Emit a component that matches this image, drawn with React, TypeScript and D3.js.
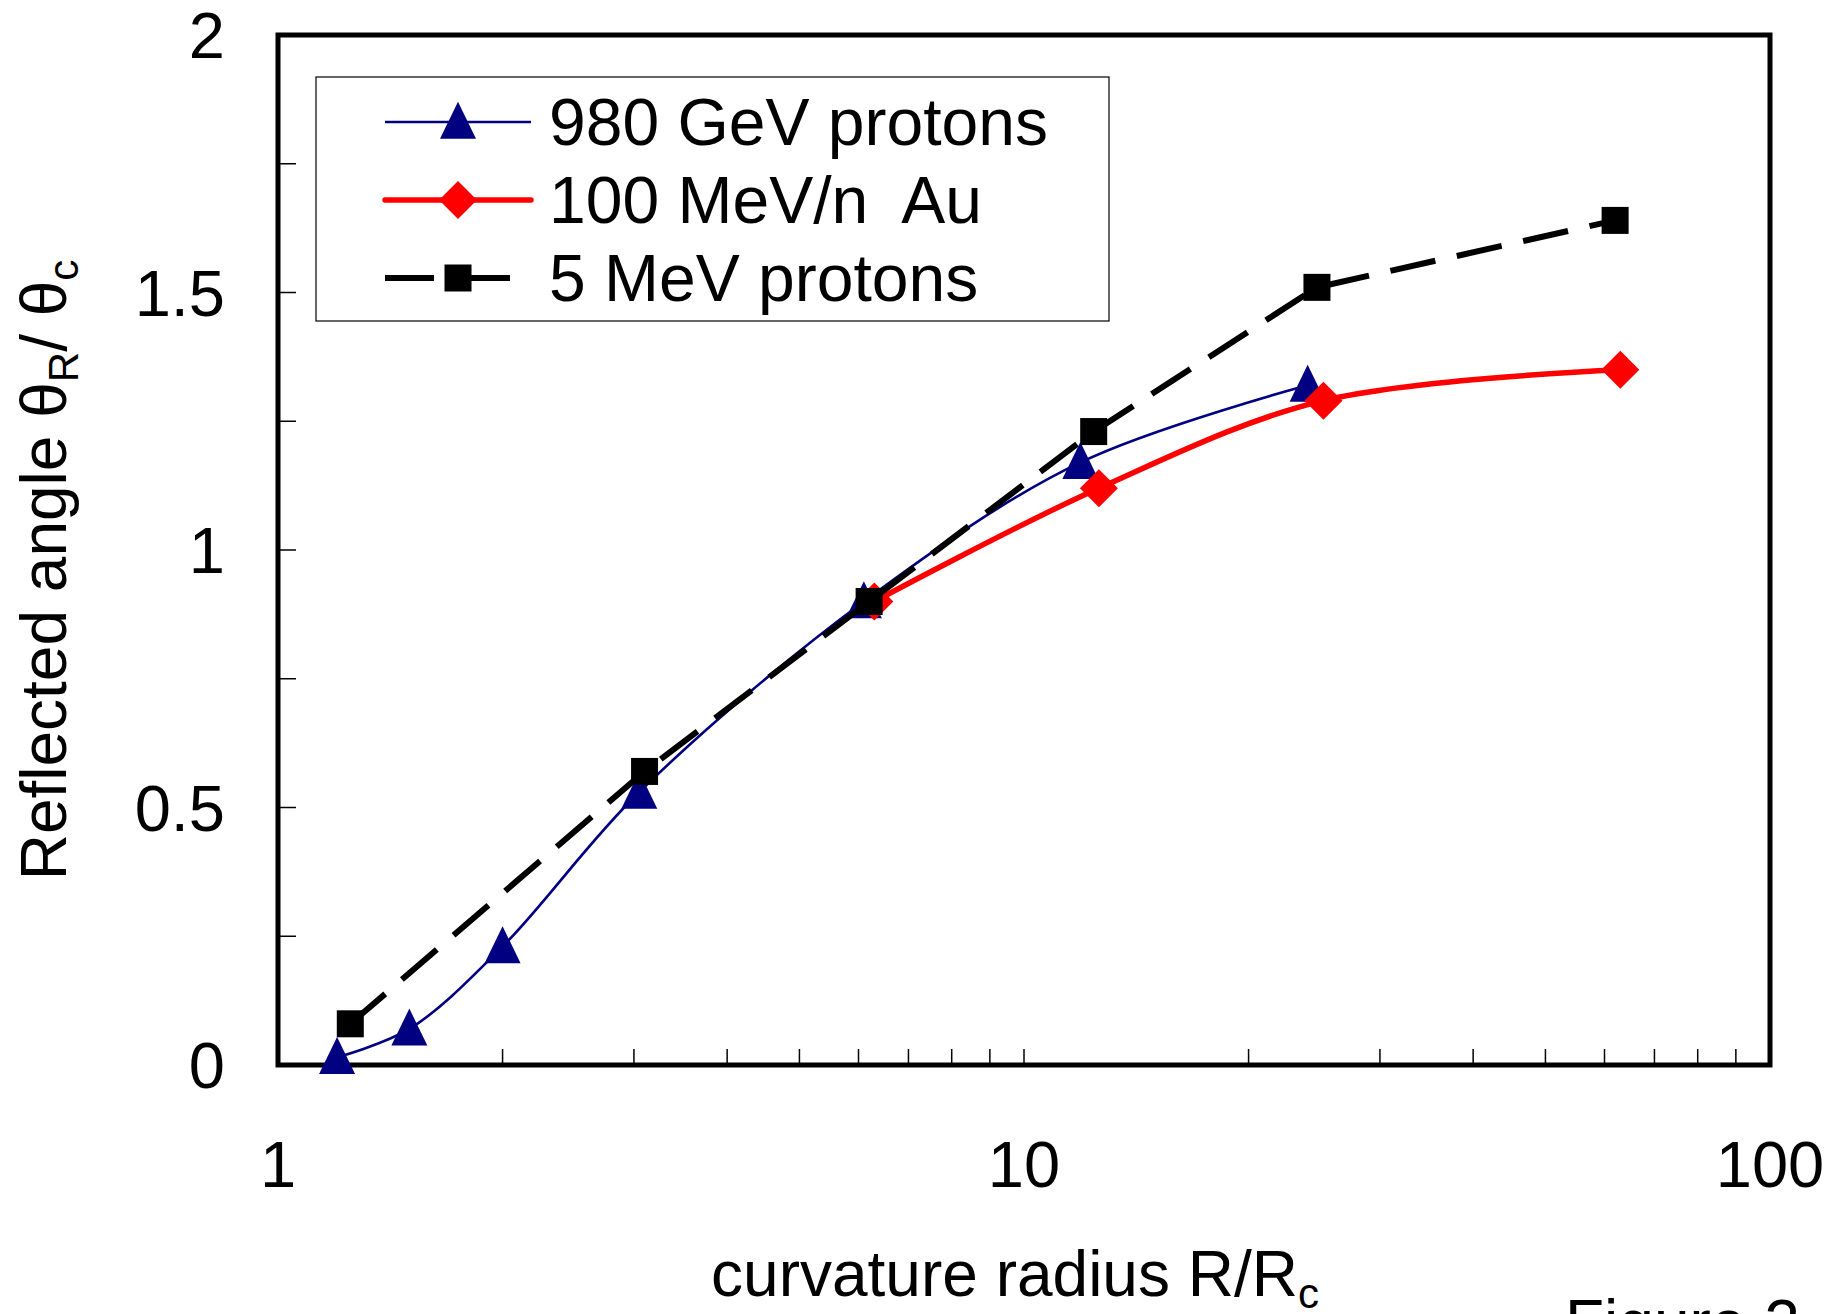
import React from "react";
import * as d3 from "d3";

const W = 1831;
const H = 1314;

const protons980X = [1.2, 1.5, 2.0, 3.05, 6.1, 11.9, 24];
const protons980Y = [0.015, 0.07, 0.23, 0.53, 0.9, 1.17, 1.32];
const auX = [6.3, 12.6, 25.2, 63];
const auY = [0.9, 1.12, 1.29, 1.35];
const protons5X = [1.25, 3.1, 6.2, 12.4, 24.7, 62];
const protons5Y = [0.08, 0.57, 0.9, 1.23, 1.51, 1.64];

const yTickLabels = ["0", "0.5", "1", "1.5", "2"];
const yTickValues = [0, 0.5, 1, 1.5, 2];
const yMinorValues = [0.25, 0.5, 0.75, 1, 1.25, 1.5, 1.75];
const xTickLabels = ["1", "10", "100"];
const xTickValues = [1, 10, 100];
const xMinorValues = [2, 3, 4, 5, 6, 7, 8, 9, 10, 20, 30, 40, 50, 60, 70, 80, 90];
const legendLabels = ["980 GeV protons", "100 MeV/n  Au", "5 MeV protons"];

const FONT = "'Liberation Sans', Arial, sans-serif";

export default function App() {
  const left = 278, right = 1770, top = 35, bottom = 1065;
  const x = d3.scaleLog().domain([1, 100]).range([left, right]);
  const y = d3.scaleLinear().domain([0, 2]).range([bottom, top]);

  const smooth = d3
    .line<[number, number]>()
    .x((d) => x(d[0]))
    .y((d) => y(d[1]))
    .curve(d3.curveCatmullRom.alpha(0.5));
  const straight = d3
    .line<[number, number]>()
    .x((d) => x(d[0]))
    .y((d) => y(d[1]));

  const blue = protons980X.map((v, i) => [v, protons980Y[i]] as [number, number]);
  const red = auX.map((v, i) => [v, auY[i]] as [number, number]);
  const black = protons5X.map((v, i) => [v, protons5Y[i]] as [number, number]);

  const tri = (cx: number, cy: number, w = 36, h = 37) =>
    `M${cx},${cy - h * 0.55} L${cx + w / 2},${cy + h * 0.45} L${cx - w / 2},${cy + h * 0.45} Z`;
  const dia = (cx: number, cy: number, w = 38, h = 38) =>
    `M${cx},${cy - h / 2} L${cx + w / 2},${cy} L${cx},${cy + h / 2} L${cx - w / 2},${cy} Z`;
  const SQ = 27;

  const legRows = [122, 200, 278];
  const legL = 385, legR = 531, legM = 458, legText = 549;

  return (
    <svg
      width={W}
      height={H}
      style={{ position: "absolute", left: 0, top: 0, background: "#fff" }}
      fontFamily={FONT}
    >
      <rect x={0} y={0} width={W} height={H} fill="#fff" />

      {yMinorValues.map((v) => (
        <line key={"ym" + v} x1={left} x2={left + 18} y1={y(v)} y2={y(v)} stroke="#000" strokeWidth={1.5} />
      ))}
      {xMinorValues.map((v) => (
        <line key={"xm" + v} x1={x(v)} x2={x(v)} y1={bottom} y2={bottom - 16} stroke="#000" strokeWidth={1.5} />
      ))}

      <rect x={left} y={top} width={right - left} height={bottom - top} fill="none" stroke="#000" strokeWidth={5} />

      {yTickValues.map((v, i) => (
        <text key={"yl" + v} x={225} y={y(v) + 23} textAnchor="end" fontSize={65} fill="#000">
          {yTickLabels[i]}
        </text>
      ))}
      {xTickValues.map((v, i) => (
        <text key={"xl" + v} x={x(v)} y={1187} textAnchor="middle" fontSize={65} fill="#000">
          {xTickLabels[i]}
        </text>
      ))}

      <text x={1015} y={1296} textAnchor="middle" fontSize={64} fill="#000">
        curvature radius R/R<tspan fontSize={42} dy={12}>c</tspan>
      </text>
      <text transform={`translate(66,570) rotate(-90)`} textAnchor="middle" fontSize={64} fill="#000">
        Reflected angle θ<tspan fontSize={42} dy={12}>R</tspan>
        <tspan dy={-12}>/ θ</tspan>
        <tspan fontSize={42} dy={12}>c</tspan>
      </text>

      <text x={1565} y={1345} fontSize={64} fill="#000">Figure 2</text>

      <path d={smooth(blue) || ""} fill="none" stroke="#000080" strokeWidth={2.6} />
      {blue.map((d, i) => (
        <path key={"bt" + i} d={tri(x(d[0]), y(d[1]))} fill="#000080" />
      ))}

      <path d={smooth(red) || ""} fill="none" stroke="#ff0000" strokeWidth={5.5} strokeLinejoin="round" />
      {red.map((d, i) => (
        <path key={"rd" + i} d={dia(x(d[0]), y(d[1]))} fill="#ff0000" />
      ))}

      <path d={straight(black) || ""} fill="none" stroke="#000" strokeWidth={6} strokeDasharray="46 22" />
      {black.map((d, i) => (
        <rect key={"bs" + i} x={x(d[0]) - SQ / 2} y={y(d[1]) - SQ / 2} width={SQ} height={SQ} fill="#000" />
      ))}

      <rect x={316} y={77} width={793} height={244} fill="#fff" stroke="#000" strokeWidth={1.2} />
      <line x1={legL} x2={legR} y1={legRows[0]} y2={legRows[0]} stroke="#000080" strokeWidth={2.6} />
      <path d={tri(legM, legRows[0])} fill="#000080" />
      <line x1={legL} x2={legR} y1={legRows[1]} y2={legRows[1]} stroke="#ff0000" strokeWidth={5.5} strokeLinecap="round" />
      <path d={dia(legM, legRows[1])} fill="#ff0000" />
      <line x1={legL} x2={434} y1={legRows[2]} y2={legRows[2]} stroke="#000" strokeWidth={6} />
      <line x1={455} x2={510} y1={legRows[2]} y2={legRows[2]} stroke="#000" strokeWidth={6} />
      <rect x={legM - SQ / 2} y={legRows[2] - SQ / 2} width={SQ} height={SQ} fill="#000" />
      {legendLabels.map((t, i) => (
        <text key={t} x={legText} y={legRows[i] + 23} fontSize={66} fill="#000" style={{ whiteSpace: "pre" }}>
          {t}
        </text>
      ))}
    </svg>
  );
}
